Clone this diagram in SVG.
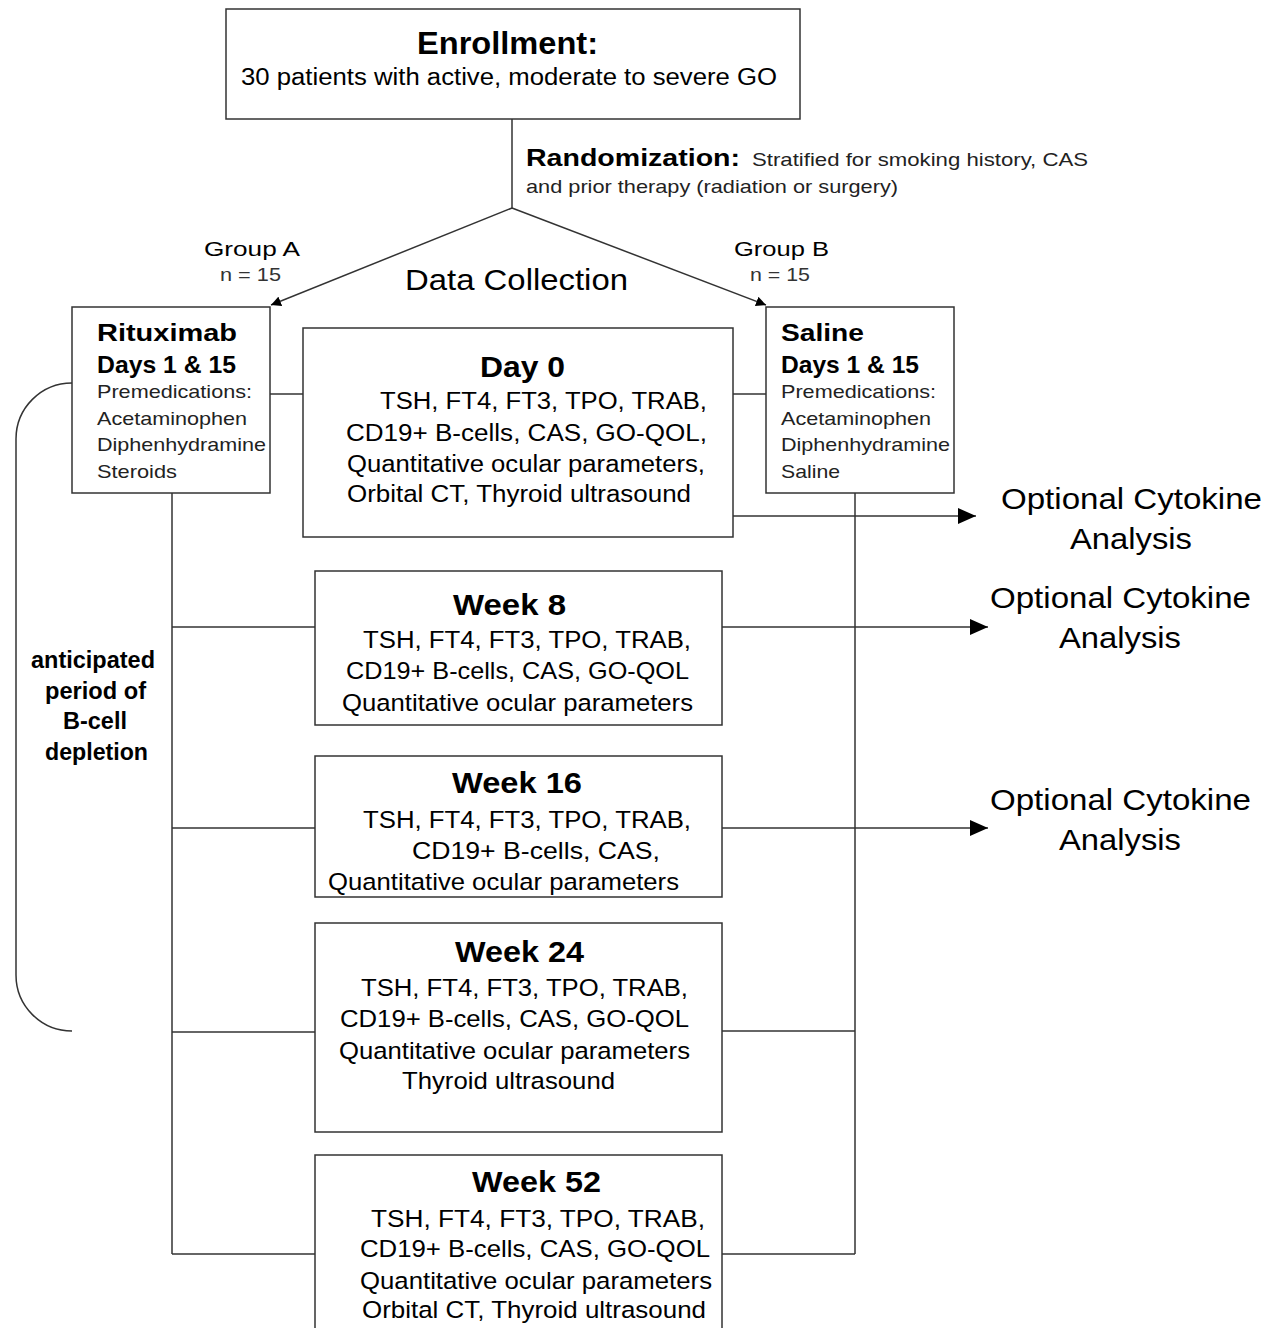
<svg xmlns="http://www.w3.org/2000/svg" width="1266" height="1328" viewBox="0 0 1266 1328">
<defs>
<marker id="arr" markerWidth="10" markerHeight="10" refX="10" refY="5" orient="auto" markerUnits="userSpaceOnUse" viewBox="0 0 10 10">
<path d="M0,0 L10,5 L0,10 Z" fill="#000"/>
</marker>
<marker id="arrBig" markerWidth="18" markerHeight="18" refX="18" refY="9" orient="auto" markerUnits="userSpaceOnUse" viewBox="0 0 18 18">
<path d="M0,1 L18,9 L0,17 Z" fill="#000"/>
</marker>
<style>
text{font-family:"Liberation Sans",Arial,sans-serif;fill:#000}
.box{fill:#fff;stroke:#333;stroke-width:1.5}
.ln{fill:none;stroke:#333;stroke-width:1.5}
.b{font-weight:bold}
.h1{font-size:31px;font-weight:bold}
.h2{font-size:30px;font-weight:bold}
.t{font-size:23px}
.w{font-size:24.5px}
.s{font-size:19px;fill:#222}
.g{font-size:21px}
.n{font-size:18px;fill:#333}
.opt{font-size:30px}
</style>
</defs>

<g id="connectors">
<line class="ln" x1="512" y1="119" x2="512" y2="208"/>
<line class="ln" x1="512" y1="208" x2="271" y2="305" marker-end="url(#arr)"/>
<line class="ln" x1="512" y1="208" x2="766" y2="305" marker-end="url(#arr)"/>
<line class="ln" x1="270" y1="394" x2="303" y2="394"/>
<line class="ln" x1="733" y1="394" x2="766" y2="394"/>
<line class="ln" x1="172" y1="493" x2="172" y2="1254"/>
<line class="ln" x1="855" y1="493" x2="855" y2="1254"/>
<line class="ln" x1="172" y1="627" x2="315" y2="627"/>
<line class="ln" x1="172" y1="828" x2="315" y2="828"/>
<line class="ln" x1="172" y1="1032" x2="315" y2="1032"/>
<line class="ln" x1="172" y1="1254" x2="315" y2="1254"/>
<line class="ln" x1="722" y1="1031" x2="855" y2="1031"/>
<line class="ln" x1="722" y1="1254" x2="855" y2="1254"/>
<line class="ln" x1="733" y1="516" x2="976" y2="516" marker-end="url(#arrBig)"/>
<line class="ln" x1="722" y1="627" x2="988" y2="627" marker-end="url(#arrBig)"/>
<line class="ln" x1="722" y1="828" x2="988" y2="828" marker-end="url(#arrBig)"/>
<path class="ln" d="M72,383 A56,56 0 0 0 16,439 L16,975 A56,56 0 0 0 72,1031"/>
</g>

<g id="enrollment">
<rect class="box" x="226" y="9" width="574" height="110"/>
<text class="h1" x="417" y="54" textLength="181" lengthAdjust="spacingAndGlyphs">Enrollment:</text>
<text class="t" x="241" y="85" textLength="536" lengthAdjust="spacingAndGlyphs">30 patients with active, moderate to severe GO</text>
</g>

<g id="randomization">
<text class="b" font-size="23" x="526" y="166" textLength="214" lengthAdjust="spacingAndGlyphs">Randomization:</text>
<text class="s" x="752" y="166" textLength="336" lengthAdjust="spacingAndGlyphs">Stratified for smoking history, CAS</text>
<text class="s" x="526" y="193" textLength="372" lengthAdjust="spacingAndGlyphs">and prior therapy (radiation or surgery)</text>
</g>

<g id="group-a-label">
<text class="g" x="204" y="256" textLength="96" lengthAdjust="spacingAndGlyphs">Group A</text>
<text class="n" x="220" y="281" textLength="61" lengthAdjust="spacingAndGlyphs">n = 15</text>
</g>
<g id="group-b-label">
<text class="g" x="734" y="256" textLength="95" lengthAdjust="spacingAndGlyphs">Group B</text>
<text class="n" x="750" y="281" textLength="60" lengthAdjust="spacingAndGlyphs">n = 15</text>
</g>
<g id="data-collection-label">
<text x="405" y="290" font-size="29" textLength="223" lengthAdjust="spacingAndGlyphs">Data Collection</text>
</g>

<g id="rituximab">
<rect class="box" x="72" y="307" width="198" height="186"/>
<text class="b" font-size="24" x="97" y="341" textLength="140" lengthAdjust="spacingAndGlyphs">Rituximab</text>
<text class="b" font-size="24" x="97" y="373" textLength="139" lengthAdjust="spacingAndGlyphs">Days 1 &amp; 15</text>
<text class="s" x="97" y="398" textLength="155" lengthAdjust="spacingAndGlyphs">Premedications:</text>
<text class="s" x="97" y="425" textLength="150" lengthAdjust="spacingAndGlyphs">Acetaminophen</text>
<text class="s" x="97" y="451" textLength="169" lengthAdjust="spacingAndGlyphs">Diphenhydramine</text>
<text class="s" x="97" y="478" textLength="80" lengthAdjust="spacingAndGlyphs">Steroids</text>
</g>

<g id="saline">
<rect class="box" x="766" y="307" width="188" height="186"/>
<text class="b" font-size="24" x="781" y="341" textLength="83" lengthAdjust="spacingAndGlyphs">Saline</text>
<text class="b" font-size="24" x="781" y="373" textLength="138" lengthAdjust="spacingAndGlyphs">Days 1 &amp; 15</text>
<text class="s" x="781" y="398" textLength="155" lengthAdjust="spacingAndGlyphs">Premedications:</text>
<text class="s" x="781" y="425" textLength="150" lengthAdjust="spacingAndGlyphs">Acetaminophen</text>
<text class="s" x="781" y="451" textLength="169" lengthAdjust="spacingAndGlyphs">Diphenhydramine</text>
<text class="s" x="781" y="478" textLength="59" lengthAdjust="spacingAndGlyphs">Saline</text>
</g>

<g id="day0">
<rect class="box" x="303" y="328" width="430" height="209"/>
<text class="h2" x="480" y="377" textLength="85" lengthAdjust="spacingAndGlyphs">Day 0</text>
<text class="t" x="380" y="409" textLength="327" lengthAdjust="spacingAndGlyphs">TSH, FT4, FT3, TPO, TRAB,</text>
<text class="t" x="346" y="441" textLength="361" lengthAdjust="spacingAndGlyphs">CD19+ B-cells, CAS, GO-QOL,</text>
<text class="t" x="347" y="472" textLength="358" lengthAdjust="spacingAndGlyphs">Quantitative ocular parameters,</text>
<text class="t" x="347" y="502" textLength="344" lengthAdjust="spacingAndGlyphs">Orbital CT, Thyroid ultrasound</text>
</g>

<g id="week8">
<rect class="box" x="315" y="571" width="407" height="154"/>
<text class="h2" x="453" y="615" textLength="113" lengthAdjust="spacingAndGlyphs">Week 8</text>
<text class="w" x="363" y="648" textLength="328" lengthAdjust="spacingAndGlyphs">TSH, FT4, FT3, TPO, TRAB,</text>
<text class="w" x="346" y="679" textLength="343" lengthAdjust="spacingAndGlyphs">CD19+ B-cells, CAS, GO-QOL</text>
<text class="w" x="342" y="711" textLength="351" lengthAdjust="spacingAndGlyphs">Quantitative ocular parameters</text>
</g>

<g id="week16">
<rect class="box" x="315" y="756" width="407" height="141"/>
<text class="h2" x="452" y="793" textLength="130" lengthAdjust="spacingAndGlyphs">Week 16</text>
<text class="w" x="363" y="828" textLength="328" lengthAdjust="spacingAndGlyphs">TSH, FT4, FT3, TPO, TRAB,</text>
<text class="w" x="412" y="859" textLength="248" lengthAdjust="spacingAndGlyphs">CD19+ B-cells, CAS,</text>
<text class="w" x="328" y="890" textLength="351" lengthAdjust="spacingAndGlyphs">Quantitative ocular parameters</text>
</g>

<g id="week24">
<rect class="box" x="315" y="923" width="407" height="209"/>
<text class="h2" x="455" y="962" textLength="129" lengthAdjust="spacingAndGlyphs">Week 24</text>
<text class="w" x="361" y="996" textLength="327" lengthAdjust="spacingAndGlyphs">TSH, FT4, FT3, TPO, TRAB,</text>
<text class="w" x="340" y="1027" textLength="349" lengthAdjust="spacingAndGlyphs">CD19+ B-cells, CAS, GO-QOL</text>
<text class="w" x="339" y="1059" textLength="351" lengthAdjust="spacingAndGlyphs">Quantitative ocular parameters</text>
<text class="w" x="402" y="1089" textLength="213" lengthAdjust="spacingAndGlyphs">Thyroid ultrasound</text>
</g>

<g id="week52">
<rect class="box" x="315" y="1155" width="407" height="190"/>
<text class="h2" x="472" y="1192" textLength="129" lengthAdjust="spacingAndGlyphs">Week 52</text>
<text class="w" x="371" y="1227" textLength="334" lengthAdjust="spacingAndGlyphs">TSH, FT4, FT3, TPO, TRAB,</text>
<text class="w" x="360" y="1257" textLength="350" lengthAdjust="spacingAndGlyphs">CD19+ B-cells, CAS, GO-QOL</text>
<text class="w" x="360" y="1289" textLength="352" lengthAdjust="spacingAndGlyphs">Quantitative ocular parameters</text>
<text class="w" x="362" y="1318" textLength="344" lengthAdjust="spacingAndGlyphs">Orbital CT, Thyroid ultrasound</text>
</g>

<g id="bcell-label">
<text class="b" font-size="23" x="31" y="668" textLength="124" lengthAdjust="spacingAndGlyphs">anticipated</text>
<text class="b" font-size="23" x="45" y="699" textLength="101" lengthAdjust="spacingAndGlyphs">period of</text>
<text class="b" font-size="23" x="63" y="729" textLength="64" lengthAdjust="spacingAndGlyphs">B-cell</text>
<text class="b" font-size="23" x="45" y="760" textLength="103" lengthAdjust="spacingAndGlyphs">depletion</text>
</g>

<g id="cytokine1">
<text class="opt" x="1001" y="509" textLength="261" lengthAdjust="spacingAndGlyphs">Optional Cytokine</text>
<text class="opt" x="1070" y="549" textLength="122" lengthAdjust="spacingAndGlyphs">Analysis</text>
</g>
<g id="cytokine2">
<text class="opt" x="990" y="608" textLength="261" lengthAdjust="spacingAndGlyphs">Optional Cytokine</text>
<text class="opt" x="1059" y="648" textLength="122" lengthAdjust="spacingAndGlyphs">Analysis</text>
</g>
<g id="cytokine3">
<text class="opt" x="990" y="810" textLength="261" lengthAdjust="spacingAndGlyphs">Optional Cytokine</text>
<text class="opt" x="1059" y="850" textLength="122" lengthAdjust="spacingAndGlyphs">Analysis</text>
</g>
</svg>
